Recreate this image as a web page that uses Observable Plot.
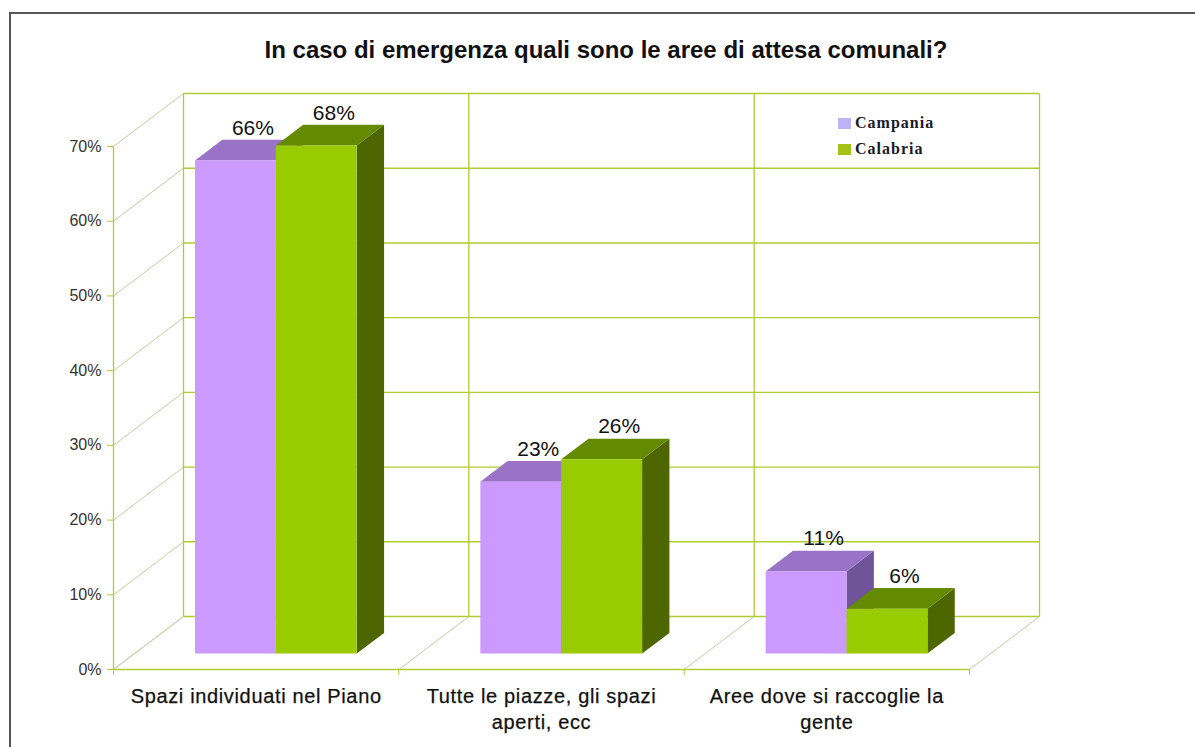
<!DOCTYPE html>
<html>
<head>
<meta charset="utf-8">
<script src="https://cdn.jsdelivr.net/npm/d3@7"></script>
<script src="https://cdn.jsdelivr.net/npm/@observablehq/plot@0.6"></script>
<style>
  html, body { margin: 0; padding: 0; background: #fff; }
  #page { position: relative; width: 1195px; height: 747px; overflow: hidden; background: #fff; }
  #page svg { position: absolute; left: 0; top: 0; }
  #frame { position: absolute; left: 9px; top: 12px; width: 1200px; height: 800px;
           border-left: 2px solid #555; border-top: 2px solid #555; }
  #title { position: absolute; left: 0; width: 1212px; top: 36px; text-align: center;
           font: bold 24px "Liberation Sans", Arial, sans-serif; color: #111; white-space: nowrap; }
  .lg { position: absolute; left: 838px; font: bold 16px "Liberation Serif", serif; letter-spacing: 1px; color: #1a1a2a; white-space: nowrap; line-height: 16px; }
  .lg i { position: absolute; left: 0; top: 3px; width: 13px; height: 11px; }
  .lg span { margin-left: 17px; }
</style>
</head>
<body>
<div id="page">
  <div id="frame"></div>
  <div id="title"></div>
  <div id="chart"></div>
  <div id="legend"></div>
</div>
<script>
const chartTitle = "In caso di emergenza quali sono le aree di attesa comunali?";
const categoryFirstLines = ["Spazi individuati nel Piano", "Tutte le piazze, gli spazi", "Aree dove si raccoglie la"];
const categorySecondLines = ["", "aperti, ecc", "gente"];
const campania = [66, 23, 11];
const calabria = [68, 26, 6];
const yTicks = [0, 10, 20, 30, 40, 50, 60, 70];
const seriesNames = ["Campania", "Calabria"];

// oblique projection: one full depth unit in category units / percent points
const depthX = 0.2453, depthY = 7.09;
const gap = 0.212, barW = 0.2835, dFront = 0.3, dBack = 0.69;
const boundaries = [0, 1, 2, 3];

const P = (x, v, d) => ({x: x + d * depthX, y: v + d * depthY});

function faces(values, offset) {
  const front = [], top = [], side = [];
  values.forEach((v, i) => {
    const x0 = i + gap + offset * barW, x1 = x0 + barW, id = i;
    [P(x0, 0, dFront), P(x1, 0, dFront), P(x1, v, dFront), P(x0, v, dFront)].forEach(p => front.push({...p, id}));
    [P(x0, v, dFront), P(x1, v, dFront), P(x1, v, dBack), P(x0, v, dBack)].forEach(p => top.push({...p, id}));
    [P(x1, 0, dFront), P(x1, 0, dBack), P(x1, v, dBack), P(x1, v, dFront)].forEach(p => side.push({...p, id}));
  });
  return {front, top, side};
}
const fA = faces(campania, 0), fB = faces(calabria, 1);
const poly = (data, fill) => Plot.line(data, {x: "x", y: "y", z: "id", fill, stroke: "none", curve: "linear-closed"});

const labels = [];
campania.forEach((v, i) => labels.push({x: i + gap + barW / 2, v}));
calabria.forEach((v, i) => labels.push({x: i + gap + barW * 1.5, v}));
const labelData = labels.map(d => ({x: d.x + 0.55 * depthX, y: d.v + dBack * depthY, t: d.v + "%"}));

const olive = "#aecd30", pale = "#c6cba4";
const link = (data, stroke, strokeWidth) => Plot.link(data, {x1: d => d[0], y1: d => d[1], x2: d => d[2], y2: d => d[3], stroke, strokeWidth});
const catMark = (lines, dy) => Plot.text(lines.map((t, i) => ({x: i + 0.5, t})), {
  x: "x", y: () => 0, text: "t", dy, fontSize: 20, fill: "#111", stroke: "#111", strokeWidth: 0.25,
  render(index, scales, values, dims, ctx, next) {
    const g = next(index, scales, values, dims, ctx);
    g.setAttribute("letter-spacing", "0.65");
    return g;
  }});

const chart = Plot.plot({
  width: 1195, height: 747,
  marginLeft: 113, marginRight: 156, marginTop: 93, marginBottom: 78,
  style: {background: "transparent", fontFamily: "Liberation Sans, Arial, sans-serif"},
  x: {domain: [0, 3 + depthX], axis: null},
  y: {domain: [0, 70 + depthY], axis: null},
  marks: [
    link(yTicks.map(v => [0, v, depthX, v + depthY]), pale, 1),
    link(boundaries.map(i => [i, 0, i + depthX, depthY]), pale, 1),
    link(yTicks.map(v => [depthX, v + depthY, 3 + depthX, v + depthY]), olive, 1.4),
    link(boundaries.map(i => [i + depthX, depthY, i + depthX, 70 + depthY]), olive, 1.3),
    link([[0, 0, 0, 70], [0, 0, 3, 0]], olive, 1.3),
    Plot.axisY({ticks: yTicks, label: null, tickSize: 6, tickPadding: 6, tickFormat: d => d + "%", stroke: olive, fill: "#333", fontSize: 16}),
    Plot.axisX({ticks: boundaries, label: null, tickSize: 6, stroke: olive, fill: "none"}),
    poly(fA.side, "#6f5499"),
    poly(fA.top, "#9a73c6"),
    poly(fA.front, "#cc99ff"),
    poly(fB.side, "#4d6600"),
    poly(fB.top, "#638a00"),
    poly(fB.front, "#99cc00"),
    Plot.text(labelData, {x: "x", y: "y", text: "t", dy: -12, fontSize: 21, fill: "#111"}),
    catMark(categoryFirstLines, 27),
    catMark(categorySecondLines, 53)
  ]
});
document.getElementById("chart").append(chart);
document.getElementById("title").textContent = chartTitle;

const swatches = ["#bcb2f4", "#a3c117"];
const tops = [115, 141];
document.getElementById("legend").innerHTML = seriesNames.map((n, i) =>
  `<div class="lg" style="top:${tops[i]}px"><i style="background:${swatches[i]}"></i><span>${n}</span></div>`).join("");
</script>
</body>
</html>
